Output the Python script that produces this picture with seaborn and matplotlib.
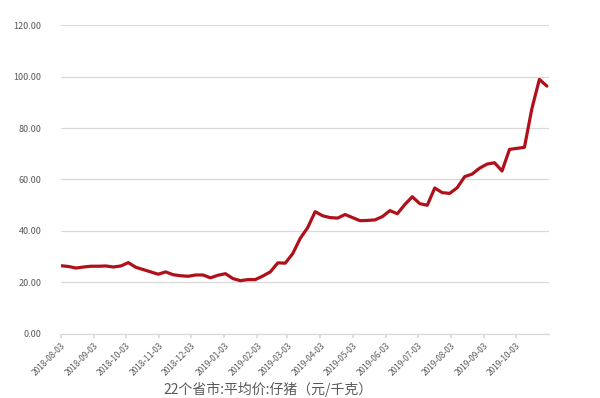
import pandas as pd
import matplotlib.pyplot as plt
import matplotlib.dates as mdates
from matplotlib.ticker import FixedLocator, FormatStrFormatter
import seaborn as sns

# Datos semanales (viernes)
start_date = "2018-08-03"
n_weeks = 66
prices = [
    26.5, 26.2, 25.6, 26.0, 26.3, 26.3, 26.4, 26.0, 26.4, 27.7,
    25.9, 25.0, 24.1, 23.2, 24.1, 23.0, 22.6, 22.4, 22.9, 22.9,
    21.8, 22.8, 23.4, 21.5, 20.7, 21.1, 21.1, 22.5, 24.1, 27.6,
    27.5, 31.2, 37.1, 41.3, 47.5, 45.9, 45.2, 45.0, 46.4, 45.2,
    44.0, 44.1, 44.3, 45.6, 47.9, 46.7, 50.3, 53.3, 50.6, 50.0,
    56.7, 54.9, 54.6, 56.8, 61.1, 62.1, 64.4, 66.0, 66.5, 63.3,
    71.7, 72.1, 72.5, 87.6, 98.9, 96.3,
]
tick_dates = pd.date_range("2018-08-01", "2019-10-01", freq="MS") + pd.Timedelta(days=2)
y_ticks = [0, 20, 40, 60, 80, 100, 120]
series_label = "22个省市:平均价:仔猪（元/千克）"

dates = pd.date_range(start_date, periods=n_weeks, freq="7D")
df = pd.DataFrame({"date": dates, "price": prices})

sns.set_theme(style="white")
plt.rcParams['font.family'] = ['Noto Sans CJK SC', 'DejaVu Sans']

fig = plt.figure(figsize=(6.0, 3.98), dpi=100)
ax = fig.add_axes([0.1017, 0.161, 0.8133, 0.776])

sns.lineplot(data=df, x="date", y="price", ax=ax, color="#b0101a", linewidth=2.3)

ax.set_ylim(0, 120)
ax.set_xlim(pd.Timestamp("2018-08-03"), pd.Timestamp("2019-11-03"))
ax.yaxis.set_major_locator(FixedLocator(y_ticks))
ax.yaxis.set_major_formatter(FormatStrFormatter("%.2f"))
ax.grid(axis="y", color="#d9d9d9", linewidth=0.9)
ax.set_axisbelow(True)

ax.xaxis.set_major_locator(FixedLocator(mdates.date2num(tick_dates)))
ax.xaxis.set_major_formatter(mdates.DateFormatter("%Y-%m-%d"))

for side in ["top", "right", "left"]:
    ax.spines[side].set_visible(False)
ax.spines["bottom"].set_color("#d9d9d9")
ax.spines["bottom"].set_linewidth(0.9)

ax.tick_params(axis="y", length=0, labelsize=6.5, labelcolor="#595959", pad=14)
ax.tick_params(axis="x", length=3, color="#d9d9d9", labelsize=6,
               labelcolor="#595959", direction="out", bottom=True, pad=2)
plt.setp(ax.get_xticklabels(), rotation=45, ha="right", rotation_mode="anchor")

ax.set_xlabel("")
ax.set_ylabel("")
fig.text(0.447, 0.003, series_label, ha="center", va="bottom",
         fontsize=10, color="#595959")

plt.savefig("out.png", dpi=100)
